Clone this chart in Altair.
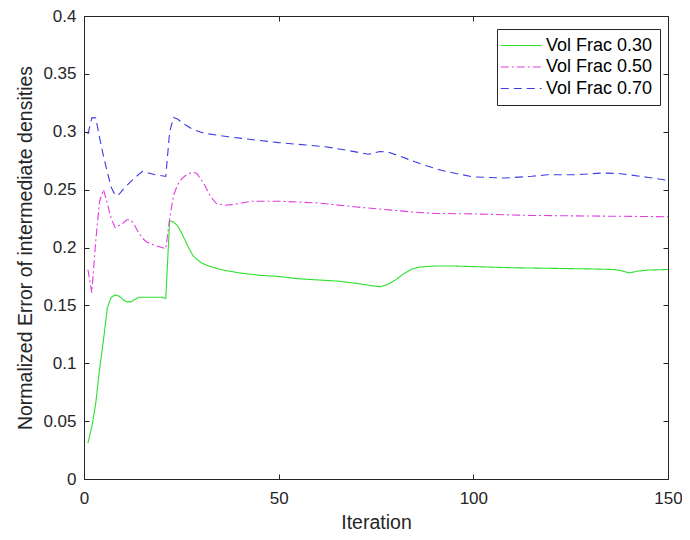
import altair as alt
import pandas as pd

series_names = ["Vol Frac 0.30", "Vol Frac 0.50", "Vol Frac 0.70"]

green_x = [1, 2, 3, 4, 5, 6, 7, 8, 9, 10, 11, 12, 13, 14, 16, 18, 20, 21, 22, 23, 24, 25, 26, 27, 28, 29, 30, 32, 35, 40, 45, 50, 55, 60, 65, 70, 74, 76, 78, 80, 82, 84, 86, 90, 95, 100, 110, 120, 130, 136, 138, 140, 142, 145, 150]
green_y = [0.031, 0.045, 0.065, 0.095, 0.12, 0.148, 0.157, 0.159, 0.158, 0.155, 0.153, 0.153, 0.155, 0.157, 0.157, 0.157, 0.157, 0.156, 0.223, 0.222, 0.219, 0.213, 0.206, 0.199, 0.193, 0.19, 0.187, 0.184, 0.181, 0.178, 0.176, 0.175, 0.173, 0.172, 0.171, 0.169, 0.167, 0.166, 0.168, 0.172, 0.177, 0.181, 0.183, 0.184, 0.184, 0.1835, 0.1825, 0.182, 0.1815, 0.181, 0.18, 0.178, 0.1795, 0.1805, 0.181]

magenta_x = [1, 2, 3, 4, 5, 6, 7, 8, 9, 10, 11, 12, 13, 14, 15, 16, 18, 20, 21, 22, 23, 24, 25, 26, 27, 28, 29, 30, 31, 32, 33, 34, 36, 38, 40, 43, 50, 60, 70, 80, 85, 90, 100, 115, 130, 150]
magenta_y = [0.181, 0.161, 0.205, 0.24, 0.25, 0.238, 0.225, 0.217, 0.219, 0.221, 0.224, 0.224, 0.219, 0.213, 0.208, 0.205, 0.202, 0.2, 0.199, 0.225, 0.245, 0.254, 0.259, 0.262, 0.264, 0.265, 0.264, 0.259, 0.254, 0.247, 0.242, 0.238, 0.2365, 0.237, 0.238, 0.24, 0.24, 0.2385, 0.235, 0.232, 0.2305, 0.2295, 0.229, 0.2277, 0.2272, 0.2266]

blue_x = [1, 2, 3, 4, 5, 6, 7, 8, 9, 10, 12, 14, 15, 16, 18, 21, 22, 23, 24, 26, 28, 31, 37, 44, 50, 62, 68, 73, 76, 78, 81, 85, 88, 92, 95, 100, 108, 115, 119, 126, 133, 137, 140, 145, 150]
blue_y = [0.298, 0.312, 0.312, 0.295, 0.279, 0.265, 0.252, 0.245, 0.246, 0.25, 0.257, 0.263, 0.2657, 0.265, 0.263, 0.2614, 0.3, 0.3123, 0.311, 0.306, 0.302, 0.2986, 0.2957, 0.2929, 0.2906, 0.2871, 0.2837, 0.2806, 0.2829, 0.2825, 0.2791, 0.274, 0.2706, 0.2665, 0.2643, 0.261, 0.26, 0.2615, 0.2628, 0.2628, 0.2643, 0.264, 0.2628, 0.2605, 0.258]

x_ticks = [0, 50, 100, 150]
y_ticks = [0, 0.05, 0.1, 0.15, 0.2, 0.25, 0.3, 0.35, 0.4]

rows = []
for name, xs, ys in zip(series_names, [green_x, magenta_x, blue_x], [green_y, magenta_y, blue_y]):
    for xv, yv in zip(xs, ys):
        rows.append({"series": name, "iter": xv, "err": yv})
df = pd.DataFrame(rows)

FONT = "Liberation Sans"
TXT = "#262626"
W, H = 584, 463

xscale = alt.Scale(domain=[0, 150], nice=False)
yscale = alt.Scale(domain=[0, 0.4], nice=False)

legend = alt.Legend(
    title=None, orient="none", legendX=413, legendY=13,
    fillColor="white", strokeColor=TXT, padding=7,
    symbolType="M-1.5,0H3.3", symbolSize=289, symbolStrokeWidth=1.2,
    labelFont=FONT, labelFontSize=18, labelColor="#000", labelOffset=23,
    rowPadding=2.5,
)

lines = alt.Chart(df).mark_line(strokeWidth=1.1).encode(
    x=alt.X("iter:Q", scale=xscale, title="Iteration",
            axis=alt.Axis(orient="bottom", values=x_ticks, offset=-5, tickSize=5, domain=False, grid=False,
                          labelFlush=False, labelOverlap=False,
                          labelPadding=11, titlePadding=7, labelFontSize=17, titleFontSize=19.5,
                          labelFont=FONT, titleFont=FONT, labelColor=TXT, titleColor=TXT, tickColor=TXT,
                          titleFontWeight="normal")),
    y=alt.Y("err:Q", scale=yscale, title="Normalized Error of intermediate densities",
            axis=alt.Axis(orient="left", values=y_ticks, offset=-5, tickSize=5, domain=False, grid=False,
                          labelFlush=False, labelOverlap=False,
                          labelPadding=8, titlePadding=7, labelFontSize=17, titleFontSize=19.5,
                          labelFont=FONT, titleFont=FONT, labelColor=TXT, titleColor=TXT, tickColor=TXT,
                          titleFontWeight="normal", labelExpr="datum.value == 0 ? '0' : format(datum.value, '.2~f')")),
    color=alt.Color("series:N", scale=alt.Scale(domain=series_names, range=["#2ee02e", "#e03ce0", "#3c3ce0"]), legend=legend),
    strokeDash=alt.StrokeDash("series:N", scale=alt.Scale(domain=series_names, range=[[1, 0], [8, 3, 2, 3], [8, 5]]), legend=legend),
    detail="series:N",
)

frame = alt.Chart(df).mark_point(opacity=0).encode(
    x=alt.X("iter:Q", scale=xscale,
            axis=alt.Axis(orient="top", values=x_ticks, offset=-5, tickSize=5, domain=False, grid=False,
                          labels=False, title=None, tickColor=TXT)),
    y=alt.Y("err:Q", scale=yscale,
            axis=alt.Axis(orient="right", values=y_ticks, offset=-5, tickSize=5, domain=False, grid=False,
                          labels=False, title=None, tickColor=TXT)),
)

chart = alt.layer(lines, frame).resolve_axis(x="independent", y="independent").properties(
    width=W, height=H,
    padding={"left": 76, "top": 8, "right": 14, "bottom": 53},
    autosize=alt.AutoSizeParams(type="none"),
    background="white",
).configure_view(stroke=TXT, strokeWidth=1)

chart.save("out.html", embed_options={"renderer": "svg", "actions": False})
